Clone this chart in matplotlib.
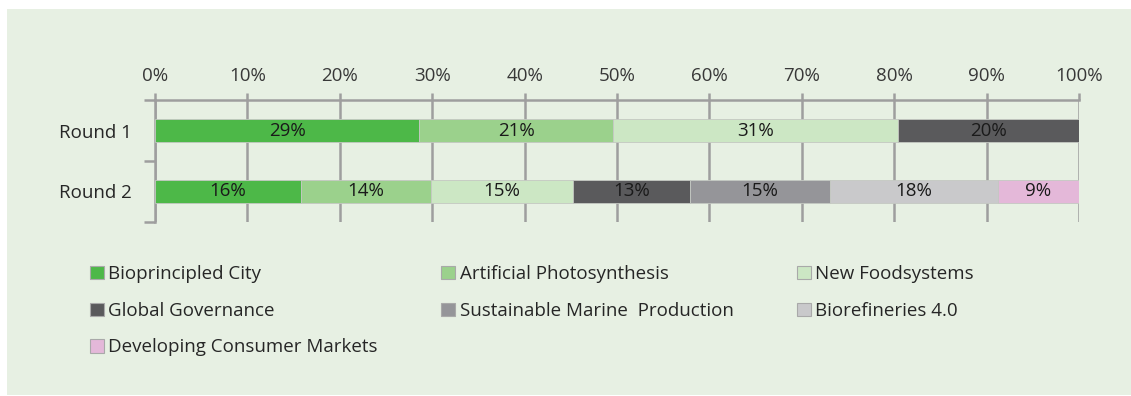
import matplotlib
matplotlib.use("Agg")
import matplotlib.pyplot as plt
from matplotlib.patches import Rectangle, Patch
from matplotlib.ticker import MultipleLocator, FuncFormatter

# ---- data -------------------------------------------------------------
rounds = ["Round 1", "Round 2"]
themes = [
    "Bioprincipled City",
    "Artificial Photosynthesis",
    "New Foodsystems",
    "Global Governance",
    "Sustainable Marine  Production",
    "Biorefineries 4.0",
    "Developing Consumer Markets",
]
# share of votes (%) per theme, [Round 1, Round 2]
bioprincipled_city = [28.6, 15.8]
artificial_photosynthesis = [21.0, 14.1]
new_foodsystems = [30.8, 15.3]
global_governance = [19.6, 12.7]
sustainable_marine = [0.0, 15.2]
biorefineries = [0.0, 18.1]
consumer_markets = [0.0, 8.8]
xtick_values = list(range(0, 101, 10))

series = [bioprincipled_city, artificial_photosynthesis, new_foodsystems,
          global_governance, sustainable_marine, biorefineries, consumer_markets]
colors = ["#4db848", "#9bd18c", "#cce7c4", "#5a5a5c",
          "#959599", "#c9c9cb", "#e4b8d9"]

# ---- figure -----------------------------------------------------------
plt.rcParams["font.family"] = ["Open Sans", "DejaVu Sans"]
FS = 13.5
W, H = 1131, 396
fig = plt.figure(figsize=(W / 100, H / 100), dpi=100, facecolor="white")
bg = "#e7f0e3"
fig.patches.append(Rectangle((7 / W, 1 / H), 1 - 7 / W, (H - 10) / H,
                             transform=fig.transFigure, facecolor=bg,
                             edgecolor="none", zorder=-10))

ax = fig.add_axes([155 / W, 1 - 222 / H, 924 / W, 122 / H])
ax.set_facecolor("none")

grey = "#9e9e9e"
ypos = list(range(len(rounds)))
left = [0.0] * len(rounds)
for vals, col in zip(series, colors):
    bars = ax.barh(ypos, vals, left=left, height=0.38, color=col,
                   edgecolor="#c4c8c2", linewidth=0.6, zorder=3)
    ax.bar_label(bars, labels=[f"{v:.0f}%" if v > 0 else "" for v in vals],
                 label_type="center", fontsize=FS, color="#1a1a1a", zorder=4)
    left = [l + v for l, v in zip(left, vals)]

ax.set_xlim(0, 100)
ax.set_ylim(1.5, -0.5)

ax.xaxis.tick_top()
ax.set_xticks(xtick_values)
ax.xaxis.set_major_formatter(FuncFormatter(lambda v, _: f"{v:.0f}%"))
ax.tick_params(axis="x", which="major", direction="out", length=5, width=1.8,
               color=grey, pad=6, labelsize=FS, labelcolor="#383838")
ax.grid(axis="x", color=grey, linewidth=1.8, zorder=0)
ax.set_axisbelow(True)

ax.set_yticks(ypos)
ax.set_yticklabels(rounds)
ax.yaxis.set_minor_locator(MultipleLocator(1.0, offset=0.5))
ax.tick_params(axis="y", which="major", length=0, pad=17,
               labelsize=FS, labelcolor="#262626")
ax.tick_params(axis="y", which="minor", direction="out", length=8,
               width=1.8, color=grey)

for side in ("right", "bottom"):
    ax.spines[side].set_visible(False)
for side in ("left", "top"):
    ax.spines[side].set_color(grey)
    ax.spines[side].set_linewidth(1.8)

# legend laid out row by row (three columns)
order = [0, 3, 6, 1, 4, 2, 5]
handles = [Patch(facecolor=colors[i], edgecolor="#a9a9a9", linewidth=0.8)
           for i in order]
labels = [themes[i] for i in order]
fig.legend(handles, labels, ncol=3, loc="upper left",
           bbox_to_anchor=(90 / W, 1 - 265 / H), frameon=False,
           fontsize=FS, labelcolor="#262626", handlelength=0.72,
           handleheight=0.72, handletextpad=0.25, columnspacing=3.4,
           labelspacing=1.0, borderpad=0, borderaxespad=0)

fig.savefig("out.png", dpi=100, facecolor="white")
